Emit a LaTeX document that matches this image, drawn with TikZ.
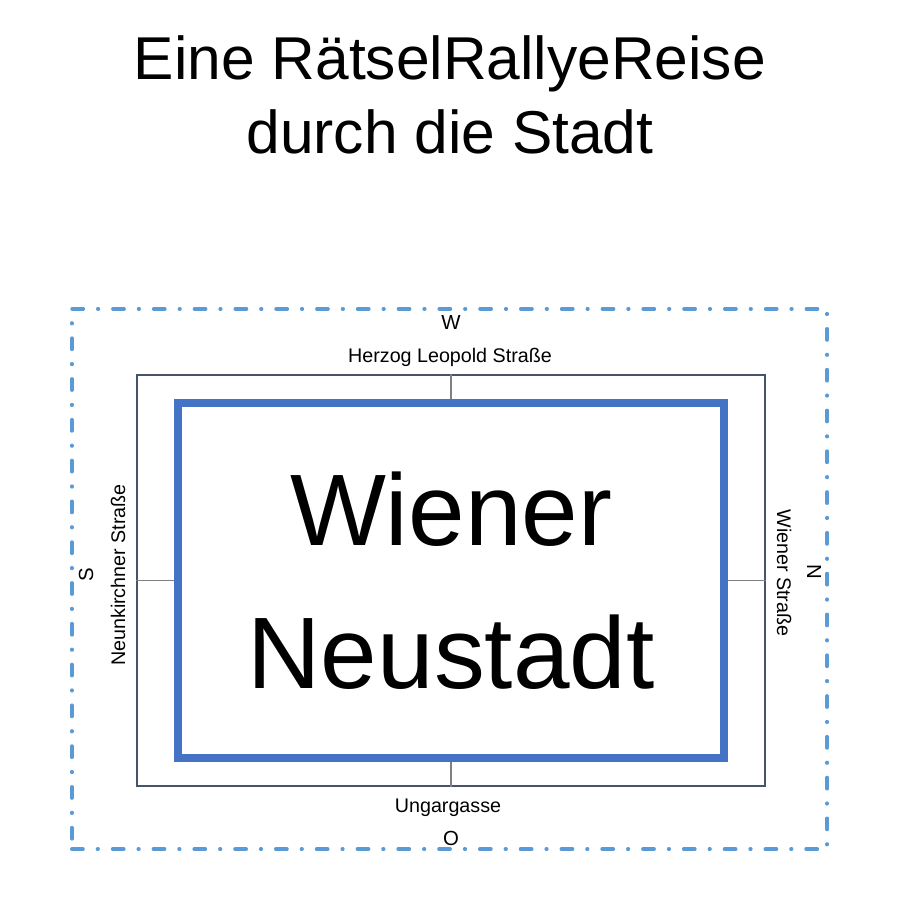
\documentclass[tikz,border=0pt]{standalone}
\usepackage{fontspec}
\setmainfont{Liberation Sans}
\usepackage{tikz}
\usetikzlibrary{positioning}
\usetikzlibrary{calc}

\definecolor{FrameBlue}{RGB}{91,155,213}
\definecolor{SignBlue}{RGB}{68,114,196}
\definecolor{BoxSlate}{RGB}{68,84,106}
\definecolor{TickGray}{RGB}{128,128,128}

\tikzset{
	titletext/.style={font=\fontsize{17.2}{20.7}\selectfont, anchor=base, inner sep=0pt},
	signtext/.style={font=\fontsize{28.9}{34}\selectfont, anchor=base, inner sep=0pt},
	streettext/.style={font=\fontsize{5.6}{6.7}\selectfont, anchor=base, inner sep=0pt},
	compasstext/.style={font=\fontsize{5.8}{7}\selectfont, anchor=base, inner sep=0pt},
	framebox/.style={draw=FrameBlue, line width=1pt, line cap=round,
		dash pattern=on 3.2pt off 4.1pt on 0.2pt off 4.1pt,
		minimum width=7.55cm, minimum height=5.40cm, inner sep=0pt},
	streetbox/.style={draw=BoxSlate, line width=0.4pt,
		minimum width=6.28cm, minimum height=4.11cm, inner sep=0pt},
	signbox/.style={draw=SignBlue, line width=2.3pt,
		minimum width=5.45cm, minimum height=3.55cm, inner sep=0pt},
	tick/.style={draw=TickGray, line width=0.4pt},
}

\begin{document}
\begin{tikzpicture}[x=0.01cm, y=-0.01cm]
	\useasboundingbox (0,0) rectangle (900,900);
	
	% ---------------------
	% Title
	\node[titletext] (TitleTop) at (450,80) {Eine RätselRallyeReise};
	\node[titletext] (TitleBottom) at (450,153) {durch die Stadt};
	
	% ---------------------
	% Frames
	\coordinate (Centre) at (451,580.5);
	\node[framebox] (Frame) at (449.5,579) {};
	\node[streetbox] (Streets) at (Centre) {};
	\node[signbox] (Sign) at (Centre) {};
	
	\draw[tick] (Streets.north) -- (Sign.north);
	\draw[tick] (Streets.south) -- (Sign.south);
	\draw[tick] (Streets.west) -- (Sign.west);
	\draw[tick] (Streets.east) -- (Sign.east);
	
	% ---------------------
	% Town name
	\node[signtext] (Wiener) at (451,545) {Wiener};
	\node[signtext] (Neustadt) at (451,688) {Neustadt};
	
	% ------------------------------------------------
	% Streets & compass
	\node[compasstext] (West) at (451,329) {W};
	\node[streettext] (Herzog) at (450,362) {Herzog Leopold Straße};
	
	\node[streettext] (Ungar) at (448,812) {Ungargasse};
	\node[compasstext] (East) at (451,845) {O};
	
	\node[compasstext, rotate=90] (South) at (93,575) {S};
	\node[streettext, rotate=90] (Neunkirchner) at (125,575) {Neunkirchner Straße};
	
	\node[streettext, rotate=-90] (WienerStr) at (777,573) {Wiener Straße};
	\node[compasstext, rotate=-90] (North) at (807,572) {N};
	
\end{tikzpicture}
\end{document}
